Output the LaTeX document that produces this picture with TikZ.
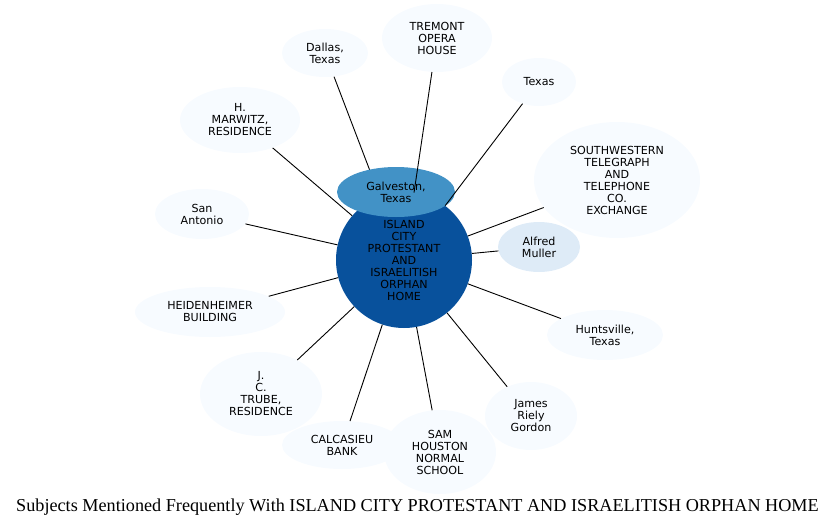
\documentclass[tikz,border=0pt]{standalone}
\usepackage{fontspec}
\setmainfont{Liberation Serif}
\newfontfamily\labelfont{DejaVu Sans}
\usetikzlibrary{shapes.geometric}
\definecolor{hubblue}{HTML}{08519C}
\definecolor{galvblue}{HTML}{4292C6}
\definecolor{paleblue}{HTML}{DEEBF7}
\definecolor{faintblue}{HTML}{F7FBFF}

\begin{document}
\begin{tikzpicture}[x=1pt, y=-1pt,
    subject/.style={ellipse, fill=faintblue, inner sep=0pt, align=center, font=\labelfont\fontsize{11.1}{12}\selectfont},
    hub/.style={subject, circle, fill=hubblue, minimum size=136pt},
    link/.style={draw=black, line width=0.9pt},
  ]
  \useasboundingbox (0,0) rectangle (835,530);

  % outer subjects, clockwise from the top
  \node[subject, minimum width=86pt, minimum height=48pt] (dallas) at (325,53) {Dallas,\\Texas};
  \node[subject, minimum width=110pt, minimum height=68pt] (tremont) at (437,38) {TREMONT\\OPERA\\HOUSE};
  \node[subject, minimum width=74pt, minimum height=48pt] (texas) at (539,82) {Texas};
  \node[subject, minimum width=166pt, minimum height=116pt] (telegraph) at (617,180) {SOUTHWESTERN\\TELEGRAPH\\AND\\TELEPHONE\\CO.\\EXCHANGE};
  \node[subject, fill=paleblue, minimum width=82pt, minimum height=50pt] (muller) at (539,247) {Alfred\\Muller};
  \node[subject, minimum width=116pt, minimum height=50pt] (huntsville) at (605,335) {Huntsville,\\Texas};
  \node[subject, minimum width=92pt, minimum height=68pt] (gordon) at (531,416) {James\\Riely\\Gordon};
  \node[subject, minimum width=120pt, minimum height=48pt] (calcasieu) at (342,445) {CALCASIEU\\BANK};
  \node[subject, minimum width=112pt, minimum height=84pt] (normal) at (440,452) {SAM\\HOUSTON\\NORMAL\\SCHOOL};
  \node[subject, minimum width=122pt, minimum height=84pt] (trube) at (261,394) {J.\\C.\\TRUBE,\\RESIDENCE};
  \node[subject, minimum width=150pt, minimum height=50pt] (heidenheimer) at (210,312) {HEIDENHEIMER\\BUILDING};
  \node[subject, minimum width=94pt, minimum height=50pt] (sanantonio) at (202,214) {San\\Antonio};
  \node[subject, minimum width=120pt, minimum height=66pt] (marwitz) at (240,120) {H.\\MARWITZ,\\RESIDENCE};

  % the orphan home
  \node[hub] (home) at (404,260) {ISLAND\\CITY\\PROTESTANT\\AND\\ISRAELITISH\\ORPHAN\\HOME};

  \draw[link] (dallas) -- (home);
  \node[subject, fill=galvblue, minimum width=118pt, minimum height=50pt] (galveston) at (396,192) {Galveston,\\Texas};

  \foreach \s in {tremont, texas, telegraph, muller, huntsville, gordon, normal, calcasieu, trube, heidenheimer, sanantonio, marwitz}
    \draw[link] (\s) -- (home);

  \node (title) at (417.5,507) {\fontsize{18.2}{20}\selectfont Subjects Mentioned Frequently With ISLAND CITY PROTESTANT AND ISRAELITISH ORPHAN HOME};
\end{tikzpicture}
\end{document}
